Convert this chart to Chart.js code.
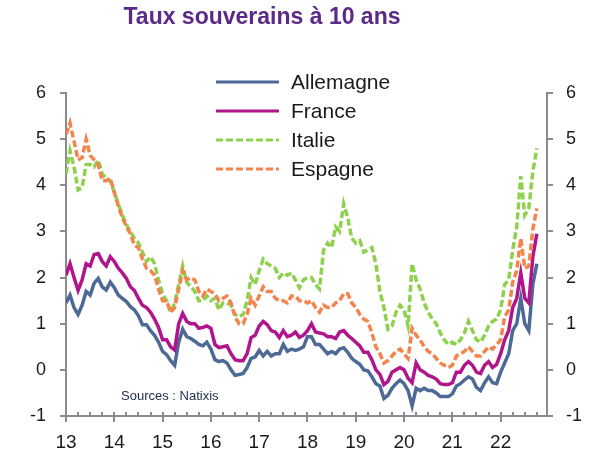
<!DOCTYPE html>
<html>
<head>
<meta charset="utf-8">
<script src="https://cdn.jsdelivr.net/npm/chart.js@4/dist/chart.umd.min.js"></script>
<style>
  html, body { margin: 0; padding: 0; background: #fff; }
  canvas { display: block; }
</style>
</head>
<body>
<canvas id="myChart" width="603" height="453"></canvas>
<script>
/* globals Chart:false */

// monthly values, Jan 2013 -> Oct 2022
var startYear = 2013;
var yearLabels = ['13', '14', '15', '16', '17', '18', '19', '20', '21', '22'];
var seriesNames = ['Allemagne', 'France', 'Italie', 'Espagne'];

var allemagne = [
  1.45, 1.62, 1.35, 1.20, 1.40, 1.70, 1.62, 1.88, 1.98, 1.80, 1.73, 1.90,
  1.78, 1.62, 1.55, 1.48, 1.37, 1.30, 1.17, 0.98, 0.98, 0.85, 0.75, 0.60,
  0.40, 0.33, 0.20, 0.10, 0.60, 0.88, 0.72, 0.68, 0.62, 0.55, 0.52, 0.60,
  0.45, 0.22, 0.18, 0.20, 0.15, 0.00, -0.12, -0.10, -0.08, 0.05, 0.25, 0.28,
  0.42, 0.30, 0.40, 0.30, 0.35, 0.35, 0.55, 0.40, 0.45, 0.42, 0.45, 0.50,
  0.72, 0.72, 0.55, 0.55, 0.45, 0.35, 0.40, 0.35, 0.45, 0.48, 0.38, 0.25,
  0.18, 0.12, 0.00, -0.02, -0.15, -0.30, -0.35, -0.62, -0.55, -0.40, -0.30, -0.22,
  -0.30, -0.45, -0.78, -0.40, -0.45, -0.40, -0.45, -0.45, -0.50, -0.58, -0.58, -0.58,
  -0.52, -0.35, -0.30, -0.22, -0.15, -0.20, -0.38, -0.45, -0.28, -0.15, -0.28, -0.30,
  -0.05, 0.15, 0.35, 0.85, 1.00, 1.55, 1.00, 0.85, 1.85, 2.30
];
var france = [
  2.05, 2.30, 2.00, 1.72, 1.95, 2.30, 2.25, 2.50, 2.52, 2.35, 2.25, 2.45,
  2.35, 2.20, 2.10, 1.98, 1.80, 1.72, 1.55, 1.40, 1.35, 1.25, 1.10, 0.92,
  0.65, 0.65, 0.50, 0.43, 1.00, 1.22, 1.05, 1.00, 1.00, 0.90, 0.92, 0.95,
  0.90, 0.55, 0.48, 0.50, 0.52, 0.35, 0.22, 0.20, 0.20, 0.35, 0.70, 0.75,
  0.95, 1.05, 0.98, 0.85, 0.82, 0.70, 0.85, 0.72, 0.75, 0.82, 0.70, 0.75,
  0.85, 1.00, 0.82, 0.80, 0.78, 0.72, 0.72, 0.68, 0.82, 0.85, 0.75, 0.68,
  0.60, 0.52, 0.38, 0.38, 0.22, 0.00, -0.10, -0.32, -0.25, -0.05, 0.00, 0.05,
  0.00, -0.18, -0.28, 0.15, 0.00, -0.05, -0.12, -0.15, -0.20, -0.30, -0.32, -0.32,
  -0.28, -0.05, -0.05, 0.10, 0.18, 0.10, -0.05, -0.08, 0.10, 0.18, 0.05, 0.12,
  0.35, 0.65, 0.85, 1.35, 1.55, 2.10, 1.55, 1.45, 2.45, 2.95
];
var italie = [
  4.25, 4.75, 4.40, 3.90, 3.95, 4.45, 4.45, 4.40, 4.55, 4.25, 4.15, 4.10,
  3.85, 3.60, 3.35, 3.15, 3.00, 2.85, 2.75, 2.55, 2.35, 2.45, 2.30, 1.95,
  1.65, 1.50, 1.25, 1.45, 1.85, 2.25, 1.90, 1.80, 1.70, 1.50, 1.50, 1.60,
  1.50, 1.55, 1.30, 1.45, 1.45, 1.40, 1.20, 1.15, 1.20, 1.50, 2.00, 1.85,
  2.15, 2.40, 2.30, 2.25, 2.20, 2.00, 2.10, 2.05, 2.10, 1.95, 1.78, 1.95,
  2.00, 2.00, 1.85, 1.75, 2.60, 2.75, 2.65, 3.10, 3.00, 3.60, 3.30, 2.85,
  2.75, 2.80, 2.55, 2.60, 2.65, 2.30, 1.70, 1.35, 0.88, 0.95, 1.25, 1.40,
  1.30, 0.95, 2.30, 1.95, 1.75, 1.45, 1.25, 1.10, 1.00, 0.80, 0.65, 0.55,
  0.60, 0.55, 0.65, 0.80, 1.05, 0.85, 0.65, 0.60, 0.75, 0.95, 1.05, 1.10,
  1.30, 1.85, 1.95, 2.60, 3.10, 4.20, 3.35, 3.50, 4.30, 4.80
];
var espagne = [
  5.10, 5.35, 4.95, 4.55, 4.60, 5.00, 4.65, 4.55, 4.45, 4.10, 4.10, 4.15,
  3.85, 3.55, 3.30, 3.10, 2.95, 2.70, 2.65, 2.40, 2.20, 2.15, 2.05, 1.75,
  1.50, 1.50, 1.25, 1.35, 1.75, 2.15, 1.95, 2.00, 1.95, 1.70, 1.60, 1.75,
  1.70, 1.65, 1.50, 1.55, 1.60, 1.45, 1.15, 1.00, 1.00, 1.20, 1.55, 1.40,
  1.60, 1.80, 1.70, 1.70, 1.55, 1.50, 1.50, 1.45, 1.60, 1.60, 1.50, 1.50,
  1.45, 1.50, 1.35, 1.25, 1.40, 1.35, 1.35, 1.45, 1.50, 1.65, 1.65, 1.45,
  1.35, 1.20, 1.10, 1.05, 0.80, 0.50, 0.35, 0.15, 0.20, 0.30, 0.40, 0.45,
  0.35, 0.25, 0.90, 0.75, 0.65, 0.50, 0.40, 0.35, 0.25, 0.15, 0.10, 0.05,
  0.10, 0.30, 0.35, 0.40, 0.50, 0.40, 0.30, 0.30, 0.40, 0.50, 0.45, 0.55,
  0.65, 1.15, 1.30, 1.90, 2.15, 2.85, 2.20, 2.25, 3.05, 3.50
];

(function () {
  'use strict'

  var axisGrey = '#8c8c8c'
  var textColor = '#1a1a1a'
  var font = 'Liberation Sans, Arial, sans-serif'

  function toPoints(values) {
    return values.map(function (v, i) {
      return { x: startYear + i / 12, y: v }
    })
  }

  // title, inner legend, source note and x tick marks
  var decorations = {
    id: 'decorations',
    afterDraw: function (chart) {
      var ctx = chart.ctx
      var area = chart.chartArea
      var xScale = chart.scales.x
      ctx.save()

      ctx.strokeStyle = axisGrey
      ctx.lineWidth = 2
      for (var q = 0; q < 40; q++) {
        var px = Math.round(xScale.getPixelForValue(startYear + q / 4))
        ctx.beginPath()
        ctx.moveTo(px, area.bottom - 4)
        ctx.lineTo(px, q % 4 === 0 ? area.bottom + 6 : area.bottom)
        ctx.stroke()
      }

      ctx.fillStyle = '#5b2a86'
      ctx.font = 'bold 23px ' + font
      ctx.textAlign = 'center'
      ctx.textBaseline = 'middle'
      ctx.fillText('Taux souverains à 10 ans', 262, 18)

      chart.data.datasets.forEach(function (ds, i) {
        var y = 82 + i * 29
        ctx.strokeStyle = ds.borderColor
        ctx.lineWidth = 3
        ctx.setLineDash(ds.borderDash || [])
        ctx.beginPath()
        ctx.moveTo(216, y)
        ctx.lineTo(279, y)
        ctx.stroke()
        ctx.setLineDash([])
        ctx.fillStyle = textColor
        ctx.font = '21px ' + font
        ctx.textAlign = 'left'
        ctx.fillText(ds.label, 291, y + 1)
      })

      ctx.fillStyle = '#1c2a4a'
      ctx.font = '13px ' + font
      ctx.textAlign = 'left'
      ctx.fillText('Sources : Natixis', 121, 396)
      ctx.restore()
    }
  }

  var ctx = document.getElementById('myChart')
  // eslint-disable-next-line no-unused-vars
  var myChart = new Chart(ctx, {
    type: 'line',
    data: {
      datasets: [{
        label: seriesNames[0],
        data: toPoints(allemagne),
        borderColor: '#4d6a96',
        order: 3
      }, {
        label: seriesNames[1],
        data: toPoints(france),
        borderColor: '#b0158c',
        order: 2
      }, {
        label: seriesNames[2],
        data: toPoints(italie),
        borderColor: '#8fd14f',
        borderDash: [7, 3],
        order: 1
      }, {
        label: seriesNames[3],
        data: toPoints(espagne),
        borderColor: '#f4844c',
        borderDash: [7, 3],
        order: 0
      }]
    },
    options: {
      responsive: false,
      animation: false,
      devicePixelRatio: 1,
      layout: { padding: { top: 93, left: 0, right: 0, bottom: 0 } },
      elements: {
        point: { radius: 0 },
        line: { borderWidth: 3.5, tension: 0 }
      },
      plugins: {
        legend: { display: false },
        title: { display: false },
        tooltip: { enabled: false }
      },
      scales: {
        x: {
          type: 'linear',
          min: 2013,
          max: 2022.96,
          afterFit: function (scale) { scale.height = 37 },
          grid: { display: false, drawTicks: false },
          border: { display: true, color: axisGrey, width: 2 },
          ticks: {
            stepSize: 1,
            includeBounds: false,
            autoSkip: false,
            maxRotation: 0,
            padding: 15,
            color: textColor,
            font: { family: font, size: 19 },
            callback: function (v) {
              return Number.isInteger(v) ? yearLabels[v - startYear] : ''
            }
          }
        },
        y: {
          position: 'left',
          min: -1,
          max: 6,
          afterFit: function (scale) { scale.width = 66 },
          grid: { drawOnChartArea: false, tickLength: 6, color: axisGrey, lineWidth: 2 },
          border: { display: true, color: axisGrey, width: 2 },
          ticks: {
            stepSize: 1,
            padding: 14,
            color: textColor,
            font: { family: font, size: 18 }
          }
        },
        y2: {
          position: 'right',
          min: -1,
          max: 6,
          afterFit: function (scale) { scale.width = 56 },
          grid: { drawOnChartArea: false, tickLength: 6, color: axisGrey, lineWidth: 2 },
          border: { display: true, color: axisGrey, width: 2 },
          ticks: {
            stepSize: 1,
            padding: 13,
            color: textColor,
            font: { family: font, size: 18 }
          }
        }
      }
    },
    plugins: [decorations]
  })
})()
</script>
</body>
</html>
